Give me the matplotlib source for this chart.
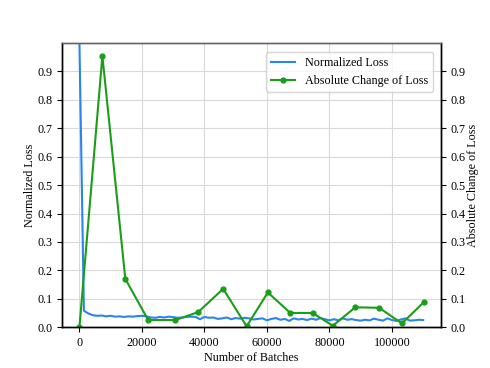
import numpy as np
import matplotlib.pyplot as plt

plt.rcParams['font.family'] = ['Liberation Serif', 'DejaVu Serif']
plt.rcParams['font.size'] = 8.7

# Normalized loss (dense curve)
norm_loss = [1.0, 0.058, 0.048, 0.042, 0.040, 0.041, 0.038, 0.040, 0.037, 0.038,
             0.036, 0.038, 0.037, 0.039, 0.040, 0.038, 0.034, 0.033, 0.036, 0.034,
             0.037, 0.035, 0.033, 0.034, 0.036, 0.037, 0.036, 0.028, 0.036, 0.033,
             0.034, 0.029, 0.031, 0.034, 0.028, 0.032, 0.030, 0.033, 0.031, 0.027,
             0.029, 0.031, 0.024, 0.029, 0.032, 0.026, 0.029, 0.022, 0.031, 0.027,
             0.029, 0.025, 0.030, 0.026, 0.032, 0.028, 0.024, 0.028, 0.024, 0.031,
             0.026, 0.028, 0.025, 0.023, 0.026, 0.024, 0.030, 0.026, 0.023, 0.031,
             0.025, 0.022, 0.027, 0.031, 0.023, 0.024, 0.026, 0.025]
loss_batches = np.linspace(0, 110000, len(norm_loss))

# Absolute change of loss
change_batches = [0, 7340, 14680, 22000, 30700, 38000, 46000, 53500, 60300,
                  67500, 74600, 81100, 88300, 95950, 103200, 110200]
abs_change = [0.0, 0.955, 0.170, 0.025, 0.025, 0.053, 0.135, 0.003, 0.122,
              0.050, 0.050, 0.005, 0.070, 0.068, 0.013, 0.088]

fig = plt.figure(figsize=(4.9, 3.68), dpi=100)
ax = fig.add_axes([0.127, 0.111, 0.773, 0.772])
ax2 = ax.twinx()

l1, = ax.plot(loss_batches, norm_loss, color='#2a84f0', lw=1.5, label='Normalized Loss')
l2, = ax2.plot(change_batches, abs_change, color='#1a9e1a', lw=1.5, marker='o',
               markersize=3.5, label='Absolute Change of Loss')

ax.set_ylim(0, 1.0)
ax2.set_ylim(0, 1.0)
ax.set_yticks(np.arange(0, 1.0, 0.1))
ax2.set_yticks(np.arange(0, 1.0, 0.1))
ax.set_xticks([0, 20000, 40000, 60000, 80000, 100000])
ax.grid(True, color='#d9d9d9', lw=0.8)
ax.set_xlabel('Number of Batches', labelpad=2)
ax.set_ylabel('Normalized Loss', labelpad=1)
ax2.set_ylabel('Absolute Change of Loss', labelpad=1)
for a in (ax, ax2):
    for s in a.spines.values():
        s.set_linewidth(1.0)
    a.spines['top'].set_color('#666666')

ax.legend(handles=[l1, l2], loc='upper right', bbox_to_anchor=(0.995, 0.99), fontsize=8.7)

fig.savefig('out.png', dpi=100)
